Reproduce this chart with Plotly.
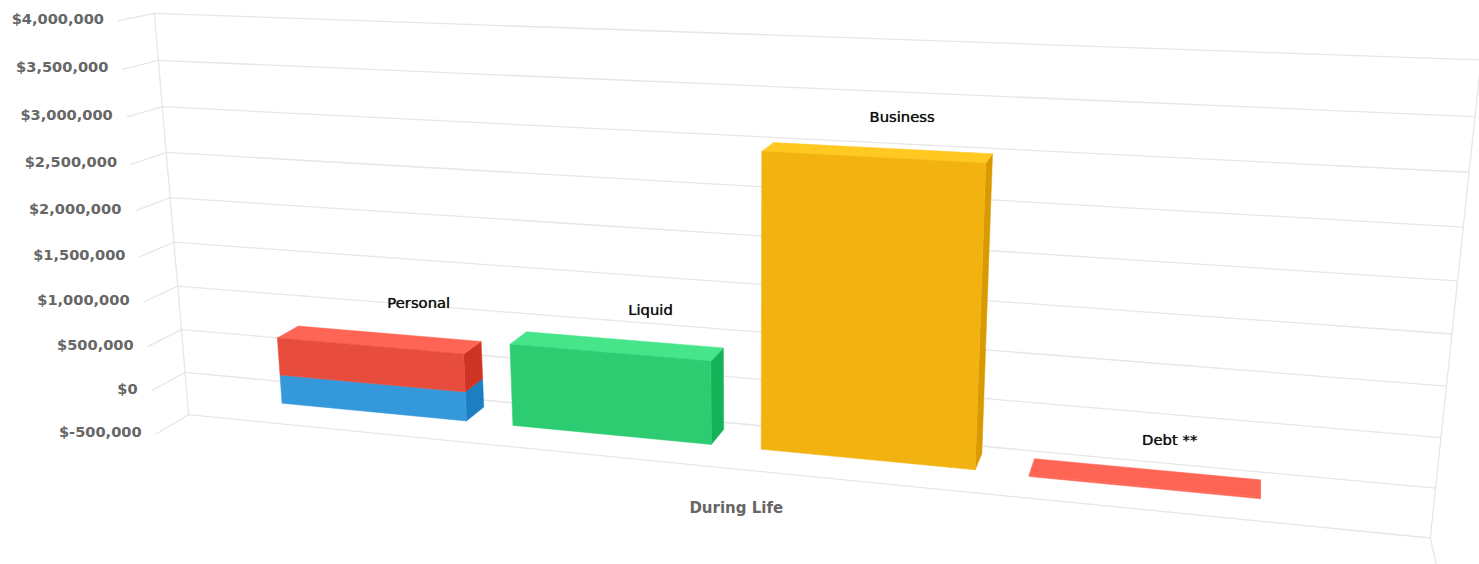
import numpy as np
import plotly.graph_objects as go

# ---- data ----
category_label = "During Life"
stack_labels = ["Personal", "Liquid", "Business", "Debt **"]
personal_lower = [315000]
personal_upper = [410000]
liquid_values = [870000]
business_values = [2990000]
debt_values = [-15000]
y_ticks = [-500000, 0, 500000, 1000000, 1500000, 2000000, 2500000, 3000000, 3500000, 4000000]
y_tick_labels = ["$-500,000", "$0", "$500,000", "$1,000,000", "$1,500,000",
                 "$2,000,000", "$2,500,000", "$3,000,000", "$3,500,000", "$4,000,000"]

# ---- perspective of the 3D box (wall corners in page pixels + depth vanishing point) ----
W, H = 1479, 564
Y_MIN, Y_MAX = y_ticks[0], y_ticks[-1]
BL, TL, BR, TR = (188.7, 414.7), (154.3, 13.3), (1430.3, 538.0), (1481.0, 60.0)
VP = np.array([1258.0, -216.0])
DEPTH = 0.030


def wall_matrix():
    dx1, dx2 = BR[0] - TR[0], TL[0] - TR[0]
    dy1, dy2 = BR[1] - TR[1], TL[1] - TR[1]
    sx = BL[0] - BR[0] + TR[0] - TL[0]
    sy = BL[1] - BR[1] + TR[1] - TL[1]
    den = dx1 * dy2 - dx2 * dy1
    g = (sx * dy2 - dx2 * sy) / den
    h = (dx1 * sy - sx * dy1) / den
    return np.array([
        [BR[0] - BL[0] + g * BR[0], TL[0] - BL[0] + h * TL[0], BL[0]],
        [BR[1] - BL[1] + g * BR[1], TL[1] - BL[1] + h * TL[1], BL[1]],
        [g, h, 1.0],
    ])


M = wall_matrix()


def project(cat, value, depth):
    """cat: -0.5..0.5 across the box, value: axis value, depth: 0 back wall .. 1 front."""
    u = cat + 0.5
    v = (value - Y_MIN) / (Y_MAX - Y_MIN)
    p = M @ np.array([u, v, 1.0])
    k = -DEPTH * depth
    return (p[0] + k * VP[0]) / (p[2] + k), (p[1] + k * VP[1]) / (p[2] + k)


fig = go.Figure()


def poly(points, color):
    xs, ys = zip(*[project(*pt) for pt in points])
    fig.add_trace(go.Scatter(x=list(xs) + [xs[0]], y=list(ys) + [ys[0]], mode="lines",
                             fill="toself", fillcolor=color,
                             line=dict(color=color, width=0.5), hoverinfo="skip",
                             showlegend=False))


def line(points, color="#e6e6e6", width=1.3):
    xs, ys = zip(*[project(*pt) for pt in points])
    fig.add_trace(go.Scatter(x=list(xs), y=list(ys), mode="lines",
                             line=dict(color=color, width=width), hoverinfo="skip",
                             showlegend=False))


# ---- grid ----
for t in y_ticks:
    line([(-0.5, t, 1), (-0.5, t, 0), (0.5, t, 0)])
line([(-0.5, Y_MIN, 0), (-0.5, Y_MAX, 0)])
line([(0.5, Y_MAX, 0), (0.5, Y_MIN, 0), (0.5, Y_MIN, 1)])

# ---- columns ----
BACK, FRONT = 0.32, 1.0
HALF = 0.0805
CENTERS = [-0.3, -0.1, 0.1, 0.3]


def box(center, low, high, front, side, top=None):
    a, b = center - HALF, center + HALF
    poly([(b, low, FRONT), (b, low, BACK), (b, high, BACK), (b, high, FRONT)], side)
    if top:
        poly([(a, high, FRONT), (b, high, FRONT), (b, high, BACK), (a, high, BACK)], top)
    poly([(a, low, FRONT), (b, low, FRONT), (b, high, FRONT), (a, high, FRONT)], front)


box(CENTERS[0], 0, personal_lower[0], "#3498db", "#1b7fc2")
box(CENTERS[0], personal_lower[0], personal_lower[0] + personal_upper[0],
    "#e74c3c", "#ce3323", "#ff6555")
box(CENTERS[1], 0, liquid_values[0], "#2ecc71", "#15b358", "#47e58a")
box(CENTERS[2], 0, business_values[0], "#f2b311", "#d99a00", "#ffc922")
box(CENTERS[3], debt_values[0], 0, "#ff6555", "#ff6555", "#ff6555")

# ---- data labels ----
tops = [personal_lower[0] + personal_upper[0], liquid_values[0], business_values[0], 0]
LABEL_SHIFT = 0.016
LABEL_NUDGE_X = [3.5, 1, -5, 0.5]
LABEL_LIFT = [25.5, 24, 27, 22]
lx, ly = zip(*[project(c + LABEL_SHIFT, t, 0) for c, t in zip(CENTERS, tops)])
fig.add_trace(go.Scatter(x=[v + d for v, d in zip(lx, LABEL_NUDGE_X)],
                         y=[v - d for v, d in zip(ly, LABEL_LIFT)], mode="text",
                         text=stack_labels, textposition="middle center",
                         textfont=dict(family="DejaVu Sans", size=14.8, color="#111111",
                                       shadow="0 0 0.7px #222222"),
                         hoverinfo="skip", showlegend=False))

# ---- value axis labels ----
tx, ty = zip(*[project(-0.5, t, 1) for t in y_ticks])
fig.add_trace(go.Scatter(x=[v - 14 for v in tx], y=[v - 0.5 for v in ty], mode="text",
                         text=y_tick_labels, textposition="middle left",
                         textfont=dict(family="DejaVu Sans", size=14.6, color="#666666",
                                       weight="bold"),
                         hoverinfo="skip", showlegend=False))

# ---- category label ----
cx, cy = project(0, Y_MIN, 1)
fig.add_trace(go.Scatter(x=[cx], y=[cy + 15], mode="text", text=[category_label],
                         textposition="middle center",
                         textfont=dict(family="DejaVu Sans", size=15, color="#666666",
                                       weight="bold"),
                         hoverinfo="skip", showlegend=False))

fig.update_layout(width=W, height=H, margin=dict(l=0, r=0, t=0, b=0),
                  paper_bgcolor="white", plot_bgcolor="white", showlegend=False,
                  xaxis=dict(range=[0, W], visible=False, fixedrange=True),
                  yaxis=dict(range=[H, 0], visible=False, fixedrange=True))

fig.write_html("out.html", config={"displayModeBar": False},
               post_script="document.body.style.margin='0';document.body.style.overflow='hidden';")
